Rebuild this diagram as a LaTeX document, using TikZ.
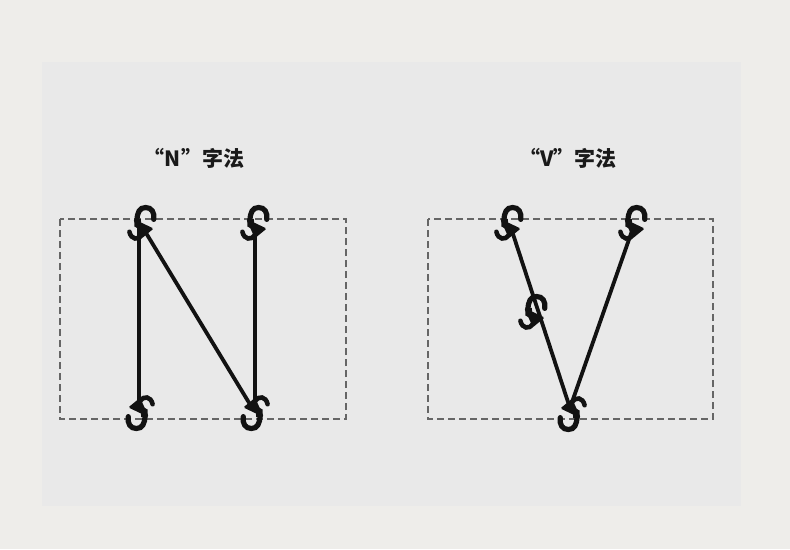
\documentclass[tikz,border=0pt]{standalone}
\usepackage{fontspec}
\newfontfamily\cjk{Noto Sans CJK SC}
\definecolor{outerbg}{HTML}{EEEDEA}
\definecolor{panelbg}{HTML}{E9E9E9}
\definecolor{dashc}{HTML}{666666}
\definecolor{hookc}{HTML}{121212}
\definecolor{textc}{HTML}{1A1A1A}
\tikzset{
  shook/.pic={
    \fill[hookc, rounded corners=1.5pt] (-10,-2) -- (9,7) -- (-2,16) -- cycle;
    \fill[hookc] (-9,-2) -- (-3,-2) -- (-2,9) -- (-9,5) -- cycle;
    \draw[hookc, line width=5.2pt, line cap=round]
      (9,-1.5) .. controls (10,-8) and (7,-12.5) .. (1.5,-12.5)
             .. controls (-4,-12.5) and (-6.5,-8) .. (-6.5,0);
    \draw[hookc, line width=4.6pt, line cap=round]
      (-2,13) .. controls (-5,18) and (-12,17.5) .. (-13.5,10);
  },
  hk/.style={scale=1.08},
  rope/.style={hookc, line width=3.8pt},
  frame/.style={dashc, line width=1.5pt, dash pattern=on 7pt off 4pt},
  title/.style={text=textc, inner sep=0pt, font=\cjk\bfseries\fontsize{21}{21}\selectfont}
}
\begin{document}
\begin{tikzpicture}[x=1pt, y=-1pt]
  \useasboundingbox (0,0) rectangle (790,549);
  \fill[outerbg] (0,0) rectangle (790,549);
  \fill[panelbg] (42,62) rectangle (741,506);

  % titles
  \node[title] (tn) at (194,158) {“N”字法};
  \node[title] (tv) at (568,158) {“V”字法};

  % dashed frames
  \draw[frame] (60,219) rectangle (346,419);
  \draw[frame] (428,219) rectangle (713,419);

  % rope end points
  \coordinate (n1a) at (139,228);
  \coordinate (n1b) at (139,406);
  \coordinate (n2a) at (143,228);
  \coordinate (n2b) at (251,406);
  \coordinate (n3a) at (255,228);
  \coordinate (n3b) at (255,406);
  \coordinate (v1a) at (511,228);
  \coordinate (v1b) at (569,405);
  \coordinate (v2a) at (633,228);
  \coordinate (v2b) at (571,405);

  % ropes
  \draw[rope] (n1a) -- (n1b);
  \draw[rope] (n2a) -- (n2b);
  \draw[rope] (n3a) -- (n3b);
  \draw[rope] (v1a) -- (v1b);
  \draw[rope] (v2a) -- (v2b);

  % hooks
  \pic[hk] at (144,221) {shook};
  \pic[hk] at (257,221) {shook};
  \pic[hk, rotate=180] at (138,415) {shook};
  \pic[hk, rotate=180] at (253,415) {shook};
  \pic[hk] at (511,221) {shook};
  \pic[hk] at (635,221) {shook};
  \pic[hk] at (535,310) {shook};
  \pic[hk, rotate=180] at (570,416) {shook};
\end{tikzpicture}
\end{document}
